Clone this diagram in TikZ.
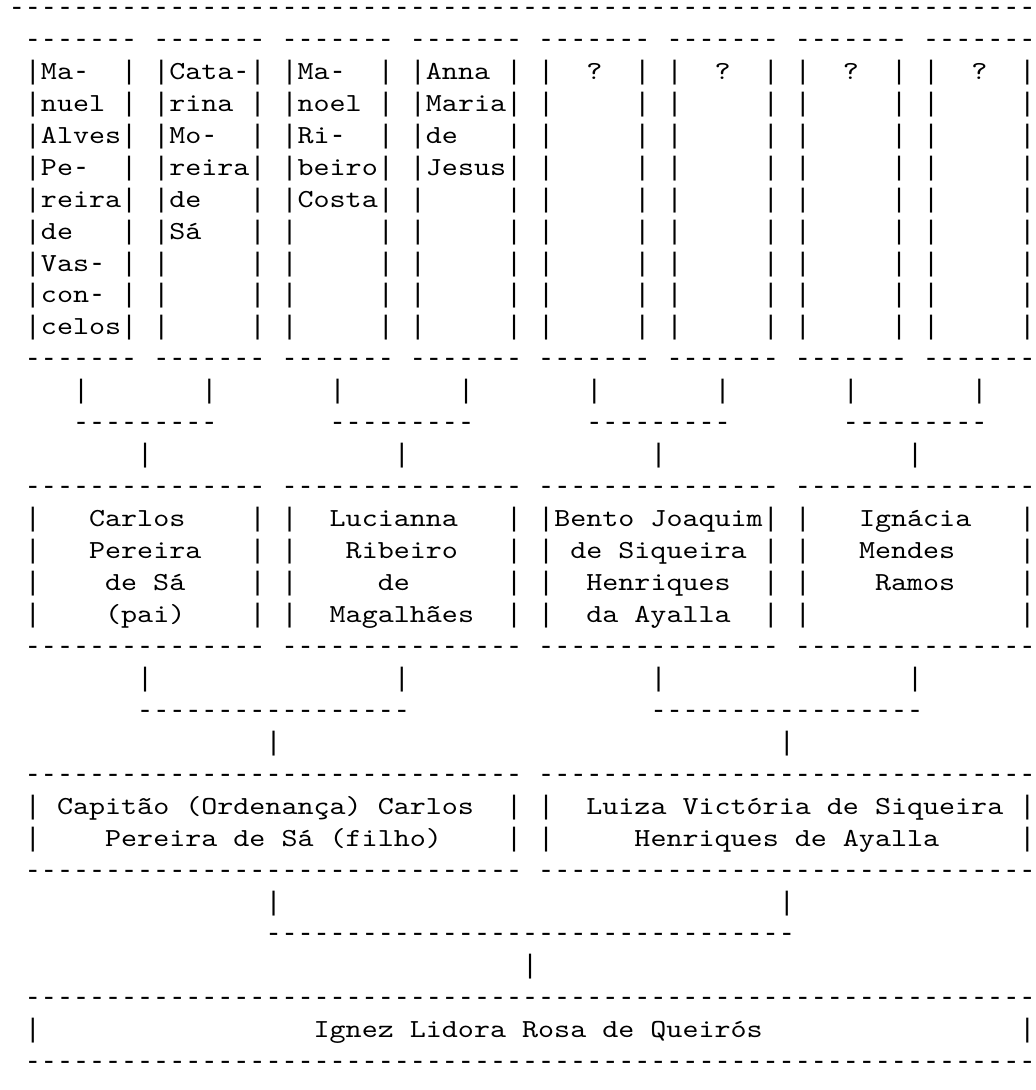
\documentclass[tikz,border=0pt]{standalone}
\usepackage{fontspec}
\newfontfamily\asc{lmmono10-regular.otf}[FakeStretch=1.175, Ligatures=TeXOff]
\newfontfamily\lib{Liberation Mono}[Ligatures=TeXOff]
\newcount\repc
\newcommand\reps[1]{\repc=#1\relax\loop\ifnum\repc>0 -\advance\repc by -1\repeat}
\newcommand\hy{{\lib\fontsize{26.73}{32}\selectfont -}}
\def\xo{8.9}\def\cw{16.04}\def\yo{15.4}\def\ls{31.95}
\tikzset{
  asc/.style={font=\asc\fontsize{26}{32}\selectfont, anchor=base west, inner sep=0pt, outer sep=0pt, text=black},
  lin/.style={font=\lib\fontsize{26.73}{32}\selectfont, anchor=base west, inner sep=0pt, outer sep=0pt, text=black, text height=12pt, text depth=0pt}
}
\newcommand\tx[4]{\node[asc] (#1) at ({(\xo+#2*\cw)*1pt},{-(\yo+(#3-1)*\ls)*1pt}) {#4};}
\newcommand\tl[4]{\node[lin] (#1) at ({(\xo+#2*\cw)*1pt},{-(\yo+(#3-1)*\ls)*1pt}) {#4};}
\begin{document}
\begin{tikzpicture}
\fill[white] (0,0) rectangle (1036pt,-1090pt);
\useasboundingbox (0,0) rectangle (1036pt,-1090pt);
% ---------- top rule ----------
\tl{top}{0}{1}{\reps{64}}
% ---------- generation 1 boxes ----------
\foreach \c in {1,9,17,25,33,41,49,57}{
  \tl{gat\c}{\c}{2}{\reps{7}}
  \tl{gab\c}{\c}{12}{\reps{7}}
}
\foreach \r in {3,...,11}{
  \foreach \c in {1,7,9,15,17,23,25,31,33,39,41,47,49,55,57,63}{
    \tl{gap\r-\c}{\c}{\r}{|}
  }
}
% box 1
\tx{a1}{2}{3}{Ma\hy}
\tx{a2}{2}{4}{nuel}
\tx{a3}{2}{5}{Alves}
\tx{a4}{2}{6}{Pe\hy}
\tx{a5}{2}{7}{reira}
\tx{a6}{2}{8}{de}
\tx{a7}{2}{9}{Vas\hy}
\tx{a8}{2}{10}{con\hy}
\tx{a9}{2}{11}{celos}
% box 2
\tx{b1}{10}{3}{Cata\hy}
\tx{b2}{10}{4}{rina}
\tx{b3}{10}{5}{Mo\hy}
\tx{b4}{10}{6}{reira}
\tx{b5}{10}{7}{de}
\tx{b6}{10}{8}{Sá}
% box 3
\tx{c1}{18}{3}{Ma\hy}
\tx{c2}{18}{4}{noel}
\tx{c3}{18}{5}{Ri\hy}
\tx{c4}{18}{6}{beiro}
\tx{c5}{18}{7}{Costa}
% box 4
\tx{d1}{26}{3}{Anna}
\tx{d2}{26}{4}{Maria}
\tx{d3}{26}{5}{de}
\tx{d4}{26}{6}{Jesus}
% unknown
\foreach \c in {36,44,52,60}{\tx{q\c}{\c}{3}{?}}
% ---------- connectors gen1 -> gen2 ----------
\foreach \c in {4,12,20,28,36,44,52,60}{\tl{v13-\c}{\c}{13}{|}}
\foreach \c in {4,20,36,52}{\tl{h14-\c}{\c}{14}{\reps{9}}}
\foreach \c in {8,24,40,56}{\tl{v15-\c}{\c}{15}{|}}
% ---------- generation 2 boxes ----------
\foreach \c in {1,17,33,49}{
  \tl{gbt\c}{\c}{16}{\reps{15}}
  \tl{gbb\c}{\c}{21}{\reps{15}}
}
\foreach \r in {17,...,20}{
  \foreach \c in {1,15,17,31,33,47,49,63}{
    \tl{gbp\r-\c}{\c}{\r}{|}
  }
}
\tx{e1}{5}{17}{Carlos}
\tx{e2}{5}{18}{Pereira}
\tx{e3}{6}{19}{de Sá}
\tx{e4}{6}{20}{(pai)}
\tx{f1}{20}{17}{Lucianna}
\tx{f2}{21}{18}{Ribeiro}
\tx{f3}{23}{19}{de}
\tx{f4}{20}{20}{Magalhães}
\tx{g1}{34}{17}{Bento Joaquim}
\tx{g2}{35}{18}{de Siqueira}
\tx{g3}{36}{19}{Henriques}
\tx{g4}{36}{20}{da Ayalla}
\tx{h1}{53}{17}{Ignácia}
\tx{h2}{53}{18}{Mendes}
\tx{h3}{54}{19}{Ramos}
% ---------- connectors gen2 -> gen3 ----------
\foreach \c in {8,24,40,56}{\tl{v22-\c}{\c}{22}{|}}
\foreach \c in {8,40}{\tl{h23-\c}{\c}{23}{\reps{17}}}
\foreach \c in {16,48}{\tl{v24-\c}{\c}{24}{|}}
% ---------- generation 3 boxes ----------
\foreach \c in {1,33}{
  \tl{gct\c}{\c}{25}{\reps{31}}
  \tl{gcb\c}{\c}{28}{\reps{31}}
}
\foreach \r in {26,27}{
  \foreach \c in {1,31,33,63}{
    \tl{gcp\r-\c}{\c}{\r}{|}
  }
}
\tx{i1}{3}{26}{Capitão (Ordenança) Carlos}
\tx{i2}{6}{27}{Pereira de Sá (filho)}
\tx{j1}{36}{26}{Luiza Victória de Siqueira}
\tx{j2}{39}{27}{Henriques de Ayalla}
% ---------- connectors gen3 -> gen4 ----------
\foreach \c in {16,48}{\tl{v29-\c}{\c}{29}{|}}
\tl{h30}{16}{30}{\reps{33}}
\tl{v31}{32}{31}{|}
% ---------- generation 4 box ----------
\tl{gdt}{1}{32}{\reps{63}}
\tl{gdl}{1}{33}{|}
\tl{gdr}{63}{33}{|}
\tx{k1}{19}{33}{Ignez Lidora Rosa de Queirós}
\tl{gdb}{1}{34}{\reps{63}}
\end{tikzpicture}
\end{document}
